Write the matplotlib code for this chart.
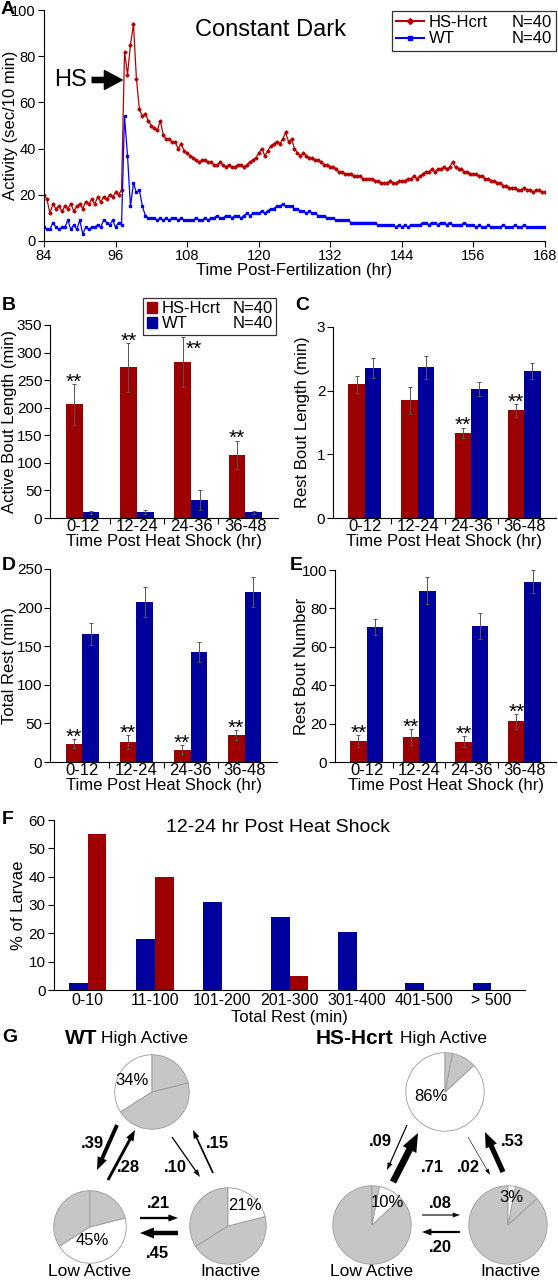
import matplotlib
matplotlib.use('Agg')
import matplotlib.pyplot as plt
import numpy as np
from matplotlib.lines import Line2D
from matplotlib.patches import Patch, FancyArrow

plt.rcParams['font.family'] = ['Liberation Sans', 'DejaVu Sans']

W, H = 558, 1280

# ------------------------------------------------------------------ data
hours = np.arange(84, 168.01, 0.5)
hcrt_activity = [
    20, 18, 12, 16, 14, 15, 13, 15, 14, 16, 13, 15,
    16, 14, 17, 16, 18, 16, 19, 17, 19, 18, 20, 19,
    21, 20, 22, 82, 72, 85, 94, 70, 57, 54, 55, 52,
    50, 49, 48, 52, 46, 44, 44, 43, 43, 40, 42, 39,
    38, 37, 36, 35, 34, 35, 35, 34, 34, 33, 33, 34,
    33, 32, 33, 32, 32, 33, 33, 32, 33, 34, 35, 36,
    38, 40, 37, 39, 41, 42, 43, 42, 44, 47, 43, 44,
    40, 38, 37, 38, 37, 36, 36, 35, 35, 34, 33, 33,
    32, 32, 31, 30, 30, 29, 29, 29, 28, 28, 28, 27,
    27, 27, 27, 26, 26, 25, 25, 25, 26, 25, 25, 26,
    26, 26, 27, 27, 28, 27, 28, 29, 30, 30, 31, 30,
    31, 31, 32, 31, 32, 34, 32, 31, 31, 30, 30, 29,
    29, 29, 28, 28, 27, 27, 26, 26, 25, 25, 24, 24,
    23, 23, 23, 22, 22, 23, 22, 22, 21, 22, 22, 21,
    21]
wt_activity = [
    6, 5, 5, 8, 6, 5, 6, 6, 9, 5, 7, 5,
    9, 3, 6, 5, 6, 6, 7, 6, 9, 8, 7, 9,
    6, 8, 7, 54, 37, 15, 25, 21, 22, 15, 11, 10,
    10, 10, 9, 10, 9, 10, 9, 10, 10, 9, 10, 9,
    9, 9, 9, 10, 9, 9, 10, 9, 10, 10, 11, 10,
    10, 11, 11, 10, 11, 11, 10, 11, 12, 11, 12, 12,
    12, 13, 12, 13, 14, 14, 15, 15, 16, 15, 15, 15,
    14, 14, 13, 13, 12, 13, 12, 12, 11, 11, 11, 10,
    10, 10, 9, 9, 9, 9, 9, 8, 8, 8, 8, 8,
    8, 8, 8, 8, 7, 7, 7, 7, 7, 7, 6, 7,
    6, 7, 6, 7, 7, 7, 7, 8, 8, 7, 8, 8,
    7, 8, 8, 7, 8, 7, 7, 7, 7, 8, 7, 7,
    7, 6, 7, 6, 6, 7, 6, 6, 6, 6, 7, 6,
    6, 6, 7, 6, 6, 7, 6, 6, 6, 6, 6, 6,
    6]

categories = ['0-12', '12-24', '24-36', '36-48']

active_bout_hcrt = [206, 273, 283, 114]
active_bout_hcrt_err = [37, 44, 45, 26]
active_bout_wt = [10, 11, 32, 10]
active_bout_wt_err = [3, 3, 18, 3]
active_bout_sig = [True, True, True, True]

rest_bout_hcrt = [2.10, 1.85, 1.335, 1.69]
rest_bout_hcrt_err = [0.13, 0.21, 0.085, 0.10]
rest_bout_wt = [2.36, 2.37, 2.03, 2.31]
rest_bout_wt_err = [0.16, 0.18, 0.11, 0.12]
rest_bout_sig = [False, False, True, True]

total_rest_hcrt = [23.7, 26, 16, 34.5]
total_rest_hcrt_err = [6, 9, 5.5, 6.5]
total_rest_wt = [165.8, 207, 142.5, 220]
total_rest_wt_err = [14, 19.5, 13, 19]
total_rest_sig = [True, True, True, True]

rest_num_hcrt = [10.9, 13, 10.6, 21.1]
rest_num_hcrt_err = [3.1, 4.2, 2.7, 3.9]
rest_num_wt = [70.4, 89.3, 70.9, 94]
rest_num_wt_err = [4.3, 7.2, 6.6, 6]
rest_num_sig = [True, True, True, True]

rest_bins = ['0-10', '11-100', '101-200', '201-300', '301-400', '401-500', '> 500']
rest_pct_wt = [2.6, 18, 31, 25.8, 20.6, 2.6, 2.6]
rest_pct_hcrt = [55, 40, 0, 5, 0, 0, 0]

states = ['High Active', 'Low Active', 'Inactive']
wt_state_pct = [34, 45, 21]
hcrt_state_pct = [86, 10, 3]
transitions = ['High>Low', 'Low>High', 'High>Inactive', 'Inactive>High',
               'Low>Inactive', 'Inactive>Low']
wt_trans_prob = [0.39, 0.28, 0.10, 0.15, 0.21, 0.45]
hcrt_trans_prob = [0.09, 0.71, 0.02, 0.53, 0.08, 0.20]

# ------------------------------------------------------------------ style
RED = '#9c0000'
BLUE = '#00009c'
LRED = '#b80000'
LBLUE = '#0000ff'
GRAY = '#c6c6c6'

fig = plt.figure(figsize=(W / 100, H / 100), dpi=100)


def px_axes(l, t, r, b, **kw):
    return fig.add_axes([l / W, 1 - b / H, (r - l) / W, (b - t) / H], **kw)


def style_axes(ax, tick_fs=11):
    for s in ('top', 'right'):
        ax.spines[s].set_visible(False)
    for s in ('left', 'bottom'):
        ax.spines[s].set_linewidth(0.8)
    ax.tick_params(direction='out', length=4, width=0.8, labelsize=tick_fs, pad=2)


# overlay in pixel coordinates (for panel G annotations and letters)
ov = fig.add_axes([0, 0, 1, 1])
ov.set_xlim(0, W)
ov.set_ylim(H, 0)
ov.axis('off')
ov.patch.set_visible(False)

for letter, (lx, ly) in {'A': (1, 9), 'B': (2, 305), 'C': (295, 305), 'D': (2, 565),
                         'E': (290, 565), 'F': (2, 819), 'G': (2, 1037)}.items():
    ov.text(lx, ly, letter, fontsize=14, fontweight='bold', ha='left', va='center')

# ------------------------------------------------------------------ panel A
axA = px_axes(44, 10, 545, 241)
style_axes(axA, 10.5)
axA.plot(hours, hcrt_activity, color=LRED, lw=0.9, marker='D', ms=1.6,
         mec=LRED, mfc=LRED, label='HS-Hcrt')
axA.plot(hours, wt_activity, color=LBLUE, lw=0.9, marker='s', ms=1.6,
         mec=LBLUE, mfc=LBLUE, label='WT')
axA.set_xlim(84, 168)
axA.set_ylim(0, 100)
axA.set_xticks(np.arange(84, 169, 12))
axA.set_yticks(np.arange(0, 101, 20))
axA.set_xlabel('Time Post-Fertilization (hr)', fontsize=12)
axA.set_ylabel('Activity (sec/10 min)', fontsize=12)
axA.xaxis.set_label_coords(0.5, -0.095)
axA.yaxis.set_label_coords(-0.052, 0.5)
axA.text(0.452, 0.913, 'Constant Dark', transform=axA.transAxes, fontsize=17,
         ha='center', va='center')
axA.annotate('HS', xy=(97.1, 69.7), xytext=(88.4, 69.7), fontsize=17,
             ha='center', va='center',
             arrowprops=dict(arrowstyle='simple,head_length=0.75,head_width=0.8,tail_width=0.22',
                             color='black', shrinkA=2, shrinkB=0))
empty = Line2D([], [], linestyle='none')
legA = axA.legend(
    handles=[Line2D([], [], color=LRED, marker='D', ms=3, lw=1.5),
             Line2D([], [], color=LBLUE, marker='s', ms=3, lw=1.5), empty, empty],
    labels=['HS-Hcrt', 'WT', 'N=40', 'N=40'], ncol=2, fontsize=12,
    loc='upper right', bbox_to_anchor=(556 / W, 1 - 10.5 / H),
    bbox_transform=fig.transFigure, frameon=True, fancybox=False,
    handlelength=1.7, handletextpad=0.3, columnspacing=-0.6,
    borderpad=0.25, labelspacing=0.1, borderaxespad=0)
legA.get_frame().set_edgecolor('black')
legA.get_frame().set_linewidth(0.9)


# ------------------------------------------------------------------ B-E
def bar_panel(box, hcrt, hcrt_err, wt, wt_err, sig, ymax, ystep, ylabel, ylab_x,
              star_shift=None):
    star_shift = star_shift or {}
    ax = px_axes(*box)
    style_axes(ax, 11)
    x = np.arange(len(categories))
    bw = 0.31
    ax.bar(x - bw / 2, hcrt, bw, color=RED, zorder=2)
    ax.bar(x + bw / 2, wt, bw, color=BLUE, zorder=2)
    ek = dict(fmt='none', ecolor='#555555', elinewidth=0.7, capsize=1.6, capthick=0.7, zorder=3)
    ax.errorbar(x - bw / 2, hcrt, yerr=hcrt_err, **ek)
    ax.errorbar(x + bw / 2, wt, yerr=wt_err, **ek)
    for i, (xi, v, e, s) in enumerate(zip(x, hcrt, hcrt_err, sig)):
        if s:
            dx, dy = star_shift.get(i, (0, -2.5))
            ax.annotate('**', xy=(xi - bw / 2, v + e), xytext=(dx, dy),
                        textcoords='offset points', ha='center', va='baseline',
                        fontsize=15, zorder=4)
    ax.set_xlim(-0.6, 3.6)
    ax.set_ylim(0, ymax)
    ax.set_yticks(np.arange(0, ymax + ystep / 2, ystep))
    ax.tick_params(axis='y', pad=1.5)
    ax.set_xticks(x)
    ax.set_xticklabels(categories, fontsize=12)
    ax.tick_params(axis='x', length=0, pad=1)
    ax.set_xticks([0.5, 1.5, 2.5], minor=True)
    ax.tick_params(axis='x', which='minor', length=4, width=0.8, direction='out')
    ax.set_xlabel('Time Post Heat Shock (hr)', fontsize=12)
    ax.xaxis.set_label_coords(0.5, -0.085)
    ax.set_ylabel(ylabel, fontsize=12)
    ax.yaxis.set_label_coords(ylab_x, 0.5)
    return ax


axB = bar_panel((50, 325, 278, 518), active_bout_hcrt, active_bout_hcrt_err,
                active_bout_wt, active_bout_wt_err, active_bout_sig,
                350, 50, 'Active Bout Length (min)', -0.145,
                star_shift={2: (8, -13)})
legB = axB.legend(
    handles=[Patch(color=RED), Patch(color=BLUE), empty, empty],
    labels=['HS-Hcrt', 'WT', 'N=40', 'N=40'], ncol=2, fontsize=12,
    loc='upper right', bbox_to_anchor=(276 / W, 1 - 298 / H),
    bbox_transform=fig.transFigure, frameon=True, fancybox=False,
    handlelength=0.6, handleheight=0.6, handletextpad=0.3, columnspacing=-0.2,
    borderpad=0.2, labelspacing=0.0, borderaxespad=0)
legB.get_frame().set_edgecolor('black')
legB.get_frame().set_linewidth(0.9)
legB.set_zorder(1)

bar_panel((333, 327, 556, 518), rest_bout_hcrt, rest_bout_hcrt_err,
          rest_bout_wt, rest_bout_wt_err, rest_bout_sig,
          3, 1, 'Rest Bout Length (min)', -0.103)
bar_panel((50, 569, 277, 762), total_rest_hcrt, total_rest_hcrt_err,
          total_rest_wt, total_rest_wt_err, total_rest_sig,
          250, 50, 'Total Rest (min)', -0.145)
bar_panel((335, 570, 556, 762), rest_num_hcrt, rest_num_hcrt_err,
          rest_num_wt, rest_num_wt_err, rest_num_sig,
          100, 20, 'Rest Bout Number', -0.118)

# ------------------------------------------------------------------ panel F
axF = px_axes(54, 820, 525, 990)
style_axes(axF, 11)
xf = np.arange(len(rest_bins))
bwf = 0.28
axF.bar(xf - bwf / 2, rest_pct_wt, bwf, color=BLUE)
axF.bar(xf + bwf / 2, rest_pct_hcrt, bwf, color=RED)
axF.set_xlim(-0.5, 6.5)
axF.set_ylim(0, 60)
axF.set_yticks(np.arange(0, 61, 10))
axF.set_xticks(xf)
axF.set_xticklabels(rest_bins, fontsize=11.5)
axF.tick_params(axis='x', length=0, pad=2)
axF.set_xlabel('Total Rest (min)', fontsize=12)
axF.xaxis.set_label_coords(0.5, -0.115)
axF.set_ylabel('% of Larvae', fontsize=12)
axF.yaxis.set_label_coords(-0.059, 0.5)
axF.text(0.476, 0.953, '12-24 hr Post Heat Shock', transform=axF.transAxes,
         fontsize=14, ha='center', va='center')


# ------------------------------------------------------------------ panel G
def pie_at(cx, cy, r, pcts, highlight, label_xy):
    ax = fig.add_axes([(cx - r) / W, 1 - (cy + r) / H, 2 * r / W, 2 * r / H])
    cols = ['white' if i == highlight else GRAY for i in range(len(pcts))]
    ax.pie(pcts, colors=cols, startangle=90, counterclock=True, radius=1,
           wedgeprops=dict(edgecolor='#9a9a9a', linewidth=0.6))
    ax.set_xlim(-1.02, 1.02)
    ax.set_ylim(-1.02, 1.02)
    ax.text(label_xy[0], label_xy[1], f'{pcts[highlight]}%', fontsize=12,
            ha='center', va='center')
    return ax


pie_at(152, 1092, 38, wt_state_pct, 0, (-0.53, 0.32))
pie_at(90, 1227, 37, wt_state_pct, 1, (0.05, -0.36))
pie_at(228, 1226, 39, wt_state_pct, 2, (0.44, 0.54))
pie_at(445, 1092, 40, hcrt_state_pct, 0, (-0.37, -0.12))
pie_at(372, 1225, 40, hcrt_state_pct, 1, (0.40, 0.58))
pie_at(508, 1225, 40, hcrt_state_pct, 2, (0.08, 0.71))

wt_arrow_xy = [((117, 1125), (97, 1170)), ((108, 1180), (135, 1130)),
               ((172, 1137), (200, 1177)), ((213, 1173), (193, 1130)),
               ((140, 1218), (178, 1218)), ((178, 1233), (140, 1233))]
wt_label_xy = [(92, 1143), (128, 1167), (175, 1167), (217, 1143), (158, 1203), (157, 1253)]
hc_arrow_xy = [((407, 1125), (387, 1170)), ((393, 1182), (418, 1133)),
               ((468, 1137), (490, 1175)), ((503, 1172), (485, 1132)),
               ((422, 1215), (460, 1215)), ((460, 1232), (422, 1232))]
hc_label_xy = [(380, 1142), (432, 1167), (468, 1167), (512, 1142), (440, 1203), (440, 1247)]


def draw_arrows(probs, arrow_xy, label_xy):
    for p, ((x0, y0), (x1, y1)), (lx, ly) in zip(probs, arrow_xy, label_xy):
        w = 0.4 + 9 * p
        ov.add_patch(FancyArrow(x0, y0, x1 - x0, y1 - y0, width=w,
                                head_width=3 + 1.8 * w, head_length=5 + 2 * w,
                                length_includes_head=True, color='black', lw=0))
        ov.text(lx, ly, f'{p:.2f}'.lstrip('0'), fontsize=12, fontweight='bold',
                ha='center', va='center')


draw_arrows(wt_trans_prob, wt_arrow_xy, wt_label_xy)
draw_arrows(hcrt_trans_prob, hc_arrow_xy, hc_label_xy)

ov.text(97, 1038, 'WT', fontsize=15, fontweight='bold', ha='right', va='center')
ov.text(101, 1038, 'High Active', fontsize=12.5, ha='left', va='center')
ov.text(393, 1038, 'HS-Hcrt', fontsize=15, fontweight='bold', ha='right', va='center')
ov.text(400, 1038, 'High Active', fontsize=12.5, ha='left', va='center')
for (x, y), s in zip([(90, 1272), (230, 1272), (372, 1272), (510, 1272)],
                     [states[1], states[2], states[1], states[2]]):
    ov.text(x, y, s, fontsize=12.5, ha='center', va='center')

fig.savefig('out.png', dpi=100)
